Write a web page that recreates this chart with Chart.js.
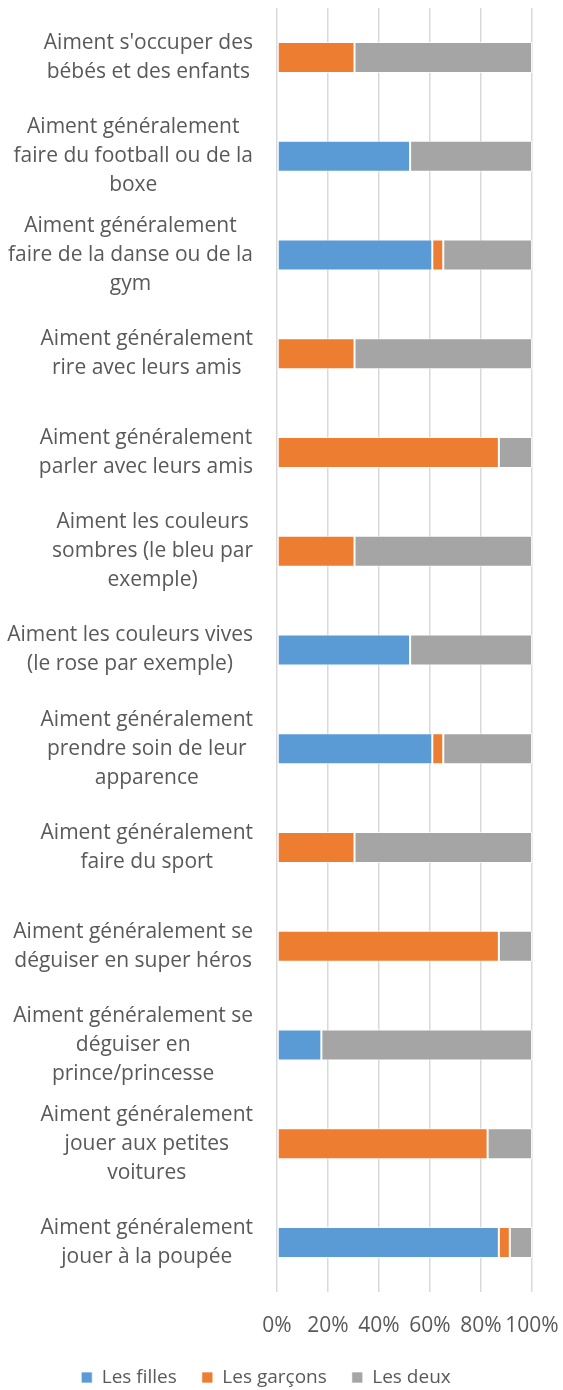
<!DOCTYPE html>
<html>
<head>
<meta charset="utf-8">
<script src="https://cdn.jsdelivr.net/npm/chart.js@4"></script>
<style>
  html, body { margin: 0; padding: 0; background: #fff; }
  #wrap { width: 563px; height: 1390px; position: relative; }
</style>
</head>
<body>
<div id="wrap"><canvas id="chart"></canvas></div>
<script>
// categories, top to bottom, already wrapped as in the original
const categories = [
  ["Aiment s'occuper des", "bébés et des enfants"],
  ["Aiment généralement", "faire du football ou de la", "boxe"],
  ["Aiment généralement", "faire de la danse ou de la", "gym"],
  ["Aiment généralement", "rire avec leurs amis"],
  ["Aiment généralement", "parler avec leurs amis"],
  ["Aiment les couleurs", "sombres (le bleu par", "exemple)"],
  ["Aiment les couleurs vives", "(le rose par exemple)"],
  ["Aiment généralement", "prendre soin de leur", "apparence"],
  ["Aiment généralement", "faire du sport"],
  ["Aiment généralement se", "déguiser en super héros"],
  ["Aiment généralement se", "déguiser en", "prince/princesse"],
  ["Aiment généralement", "jouer aux petites", "voitures"],
  ["Aiment généralement", "jouer à la poupée"]
];

// shares in %
const filles  = [0, 52.2, 60.9, 0, 0, 0, 52.2, 60.9, 0, 0, 17.4, 0, 87.0];
const garcons = [30.4, 0, 4.3, 30.4, 87.0, 30.4, 0, 4.3, 30.4, 87.0, 0, 82.6, 4.3];
const deux    = [69.6, 47.8, 34.8, 69.6, 13.0, 69.6, 47.8, 34.8, 69.6, 13.0, 82.6, 17.4, 8.7];

const seriesNames = ['Les filles', 'Les garçons', 'Les deux'];
const xTicks = [0, 20, 40, 60, 80, 100];

const FONT = '"Open Sans", Lato, sans-serif';
const FS = 21;
const TXT = '#595959';

// Excel-style category labels: each label centred on itself, block right-aligned
const catLabels = {
  id: 'catLabels',
  afterDraw(chart) {
    const ctx = chart.ctx, ys = chart.scales.y;
    const right = ys.right - 24, lh = 29;
    ctx.save();
    ctx.font = FS + 'px ' + FONT;
    ctx.fillStyle = TXT;
    ctx.textAlign = 'center';
    ctx.textBaseline = 'middle';
    categories.forEach((lines, i) => {
      const y = ys.getPixelForTick(i);
      const w = Math.max(...lines.map(l => ctx.measureText(l).width));
      const cx = right - w / 2;
      lines.forEach((l, j) => ctx.fillText(l, cx, y + (j - (lines.length - 1) / 2) * lh));
    });
    ctx.restore();
  }
};

const bar = (label, data, color) => ({
  label, data, backgroundColor: color,
  borderColor: 'rgba(255,255,255,0.7)', borderWidth: 1, borderSkipped: false,
  categoryPercentage: 0.314, barPercentage: 1
});

new Chart(document.getElementById('chart'), {
  type: 'bar',
  data: {
    labels: categories,
    datasets: [
      bar(seriesNames[0], filles, '#5B9BD5'),
      bar(seriesNames[1], garcons, '#ED7D31'),
      bar(seriesNames[2], deux, '#A5A5A5')
    ]
  },
  options: {
    indexAxis: 'y',
    responsive: true, maintainAspectRatio: false, animation: false,
    layout: { padding: { top: 8, right: 31, left: 0, bottom: -7 } },
    scales: {
      x: {
        stacked: true, min: 0, max: 100,
        afterBuildTicks: s => { s.ticks = xTicks.map(v => ({ value: v })); },
        grid: { color: '#d9d9d9', lineWidth: 1.5, drawTicks: false },
        border: { display: false },
        ticks: { padding: 21, color: TXT, font: { family: FONT, size: FS }, maxRotation: 0, minRotation: 0, autoSkip: false,
                 callback: v => v + '%' },
        afterFit: s => { s.height = 51; s.paddingRight = 0; s.paddingLeft = 0; }
      },
      y: {
        stacked: true,
        grid: { display: false },
        border: { display: false },
        ticks: { display: false },
        afterFit: s => { s.width = 277; }
      }
    },
    plugins: {
      legend: {
        position: 'bottom',
        labels: { color: TXT, font: { family: FONT, size: 19 }, boxWidth: 11, boxHeight: 11, padding: 25 }
      },
      tooltip: { enabled: false }
    }
  },
  plugins: [catLabels]
});
</script>
</body>
</html>
